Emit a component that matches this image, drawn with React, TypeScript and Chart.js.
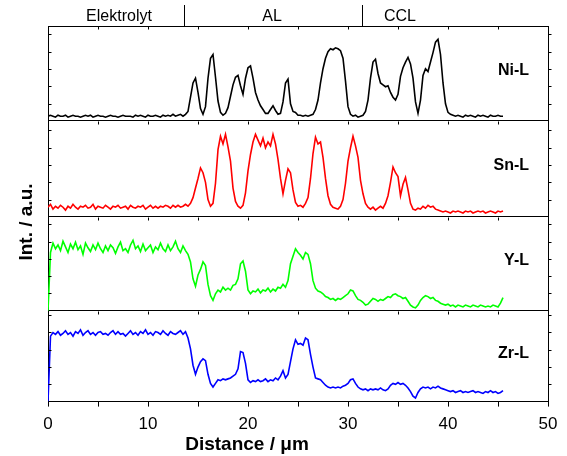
import React, { useEffect, useRef } from "react";
import { Chart, registerables } from "chart.js";

Chart.register(...registerables);

// Sampling step of the line scans (µm)
const DISTANCE_STEP = 0.25;

// Line-scan intensities (a.u., 0-100 of each panel's own range), one value every 0.25 µm from 0 to 45.5 µm
const NI_L = [
  5, 6, 5, 4, 6, 5, 5, 6, 4, 5, 6, 5, 5, 4, 5, 6, 5, 6, 4, 5, 6, 5, 5, 4,
  5, 6, 5, 5, 4, 5, 6, 5, 5, 5, 4, 6, 5, 6, 5, 4, 6, 5, 5, 6, 5, 4, 6, 5,
  6, 5, 7, 5, 6, 7, 5, 7, 10, 25, 40, 45, 30, 13, 7, 15, 45, 66, 70, 46,
  21, 9, 6, 8, 14, 26, 38, 46, 48, 37, 28, 45, 56, 58, 45, 30, 22, 16, 12, 8,
  8, 12, 16, 11, 7, 8, 20, 40, 44, 18, 10, 9, 6, 6, 5, 6, 5, 6, 7, 12,
  22, 40, 55, 66, 73, 76, 75, 77, 76, 74, 66, 42, 15, 7, 5, 6, 4, 5, 6, 10,
  22, 45, 62, 65, 50, 40, 38, 36, 37, 30, 25, 22, 28, 47, 56, 62, 67, 60, 45, 20,
  8, 22, 48, 55, 52, 62, 72, 83, 86, 70, 40, 18, 9, 7, 6, 5, 6, 5, 4, 6,
  5, 6, 5, 4, 6, 5, 6, 5, 4, 6, 5, 5, 6, 5, 5,
];

const SN_L = [
  10, 13, 8, 11, 9, 12, 10, 7, 11, 9, 13, 10, 8, 11, 10, 12, 9, 10, 13, 8,
  11, 10, 9, 12, 10, 8, 11, 10, 12, 9, 10, 11, 8, 12, 10, 9, 11, 10, 12, 8,
  10, 12, 9, 11, 9, 11, 10, 12, 11, 9, 12, 10, 12, 10, 11, 13, 11, 14, 20, 30,
  40, 51, 46, 36, 18, 11, 14, 35, 70, 84, 76, 86, 73, 58, 30, 16, 11, 9, 12, 25,
  48, 65, 78, 86, 80, 74, 82, 72, 78, 74, 86, 76, 60, 40, 24, 38, 50, 46, 28, 15,
  11, 12, 10, 14, 20, 40, 66, 83, 76, 78, 62, 40, 22, 13, 10, 9, 8, 11, 18, 35,
  58, 72, 84, 74, 62, 38, 24, 14, 10, 8, 10, 7, 9, 11, 9, 14, 22, 36, 52, 46,
  42, 22, 34, 41, 28, 14, 8, 7, 9, 8, 11, 9, 12, 10, 11, 8, 7, 6, 5, 6,
  5, 4, 6, 5, 6, 5, 4, 6, 5, 6, 4, 5, 6, 5, 6, 4, 5, 6, 5, 4, 6, 5, 6,
];

const Y_L = [
  0, 62, 72, 66, 70, 64, 74, 68, 62, 71, 66, 73, 65, 69, 60, 72, 67, 63, 70, 65,
  72, 66, 62, 69, 64, 70, 67, 61, 68, 73, 64, 66, 62, 70, 75, 66, 69, 63, 71, 64,
  67, 70, 62, 68, 65, 72, 66, 63, 70, 64, 68, 74, 66, 62, 69, 64, 60, 52, 34, 26,
  38, 44, 52, 48, 28, 16, 11, 18, 22, 20, 25, 22, 24, 22, 27, 28, 34, 50, 53, 42,
  22, 18, 21, 20, 23, 19, 22, 21, 24, 20, 23, 21, 25, 24, 28, 25, 32, 50, 58, 66,
  62, 59, 55, 62, 60, 50, 32, 24, 21, 20, 18, 15, 14, 12, 13, 11, 13, 12, 14, 16,
  18, 22, 21, 16, 12, 11, 9, 6, 7, 10, 13, 12, 10, 12, 11, 13, 15, 14, 17, 18,
  16, 15, 13, 14, 10, 6, 4, 3, 6, 11, 14, 16, 15, 13, 14, 11, 10, 8, 7, 6,
  7, 5, 6, 4, 6, 5, 4, 6, 5, 4, 6, 5, 4, 6, 5, 4, 5, 4, 6, 5, 4, 8, 14,
];

const ZR_L = [
  0, 72, 76, 74, 77, 73, 75, 78, 74, 76, 72, 77, 75, 79, 73, 76, 78, 74, 76, 73,
  76, 77, 74, 75, 73, 76, 78, 74, 77, 74, 75, 72, 75, 78, 74, 76, 73, 77, 75, 79,
  74, 76, 73, 77, 76, 74, 78, 75, 73, 77, 75, 74, 76, 78, 74, 77, 70, 58, 40, 30,
  38, 44, 47, 45, 30, 20, 16, 20, 24, 23, 25, 24, 25, 26, 28, 30, 36, 55, 54, 42,
  24, 21, 23, 22, 24, 22, 23, 25, 22, 24, 23, 26, 24, 28, 34, 26, 30, 44, 58, 68,
  63, 64, 62, 70, 68, 52, 38, 26, 25, 24, 21, 18, 16, 15, 16, 15, 16, 15, 17, 18,
  20, 24, 25, 20, 16, 14, 13, 14, 12, 14, 13, 14, 13, 15, 13, 12, 14, 18, 20, 19,
  21, 19, 20, 18, 15, 11, 6, 4, 10, 14, 16, 15, 16, 14, 16, 15, 17, 15, 14, 13,
  12, 11, 12, 10, 11, 12, 10, 11, 10, 11, 12, 10, 11, 10, 9, 11, 10, 12, 10, 11,
  9, 10, 12,
];

const DISTANCE = NI_L.map((_, i) => i * DISTANCE_STEP);

const X_TICKS = [0, 10, 20, 30, 40, 50];
const PANEL_NAMES = ["Ni-L", "Sn-L", "Y-L", "Zr-L"];
const PANEL_COLORS = ["#000000", "#ff0000", "#00ff00", "#0000ff"];
const REGION_NAMES = ["Elektrolyt", "AL", "CCL"];
const REGION_LIMITS = [13.6, 31.35]; // µm, borders between regions
const REGION_CENTERS = [7.1, 22.4, 35.2]; // µm, label positions

// Panel borders in y-axis units (bottom to top): Zr, Y, Sn, Ni
const PANEL_BOUNDS = [0, 0.968, 1.968, 2.989, 4];

const FONT = "'Liberation Sans', Arial, Helvetica, sans-serif";

const SERIES = [NI_L, SN_L, Y_L, ZR_L];

const decor = {
  id: "decor",
  afterDraw(chart: any) {
    const { ctx, chartArea: ca, scales } = chart;
    const xs = scales.x;
    const ys = scales.y;
    ctx.save();
    ctx.strokeStyle = "#000";
    ctx.fillStyle = "#000";
    ctx.lineWidth = 1;

    const R = Math.round(ca.right) + 0.5;
    const L = Math.round(ca.left) + 0.5;
    // right frame
    ctx.beginPath();
    ctx.moveTo(R, ca.top);
    ctx.lineTo(R, ca.bottom);
    ctx.stroke();

    // ticks on inner panel borders and top border (every 5 µm)
    for (let b = 1; b < PANEL_BOUNDS.length; b++) {
      const py = Math.round(ys.getPixelForValue(PANEL_BOUNDS[b])) + 0.5;
      for (let v = 5; v < 50; v += 5) {
        const px = Math.round(xs.getPixelForValue(v)) + 0.5;
        ctx.beginPath();
        ctx.moveTo(px, py);
        ctx.lineTo(px, py + 3);
        ctx.stroke();
      }
    }

    // small y ticks, left (inward) and right (outward)
    for (let p = 0; p < 4; p++) {
      const lo = ys.getPixelForValue(PANEL_BOUNDS[p]);
      const hi = ys.getPixelForValue(PANEL_BOUNDS[p + 1]);
      for (let k = 1; k < 6; k++) {
        const ty = Math.round(lo - k * 17.3) + 0.5;
        if (ty <= hi + 3) continue;
        ctx.beginPath();
        ctx.moveTo(L, ty);
        ctx.lineTo(L + 3, ty);
        ctx.moveTo(R, ty);
        ctx.lineTo(R + 3, ty);
        ctx.stroke();
      }
    }

    // region separators and names above the plot
    for (const v of REGION_LIMITS) {
      const px = Math.round(xs.getPixelForValue(v)) + 0.5;
      ctx.beginPath();
      ctx.moveTo(px, 5);
      ctx.lineTo(px, ca.top);
      ctx.stroke();
    }
    ctx.font = `16px ${FONT}`;
    ctx.textAlign = "center";
    ctx.textBaseline = "alphabetic";
    REGION_NAMES.forEach((n, i) => {
      ctx.fillText(n, xs.getPixelForValue(REGION_CENTERS[i]), 21);
    });

    // panel names
    ctx.font = `bold 16px ${FONT}`;
    ctx.textAlign = "right";
    ctx.textBaseline = "middle";
    PANEL_NAMES.forEach((n, i) => {
      const lo = PANEL_BOUNDS[3 - i];
      const hi = PANEL_BOUNDS[4 - i];
      const py = ys.getPixelForValue(lo + (hi - lo) * 0.53);
      ctx.fillText(n, 529, py);
    });

    // axis titles
    ctx.font = `bold 19px ${FONT}`;
    ctx.textAlign = "center";
    ctx.textBaseline = "alphabetic";
    ctx.fillText("Distance / \u03bcm", xs.getPixelForValue(19.9), 450);
    ctx.save();
    ctx.translate(32, 222);
    ctx.rotate(-Math.PI / 2);
    ctx.fillText("Int. / a.u.", 0, 0);
    ctx.restore();

    ctx.restore();
  },
};

export default function App() {
  const ref = useRef<HTMLCanvasElement | null>(null);

  useEffect(() => {
    if (!ref.current) return;
    const datasets = SERIES.map((vals, s) => {
      const lo = PANEL_BOUNDS[3 - s];
      const hi = PANEL_BOUNDS[4 - s];
      return {
        label: PANEL_NAMES[s],
        data: vals.map((v, i) => ({ x: DISTANCE[i], y: lo + (v / 100) * (hi - lo) })),
        borderColor: PANEL_COLORS[s],
        backgroundColor: PANEL_COLORS[s],
        borderWidth: 1.6,
        pointRadius: 0,
        tension: 0,
        fill: false,
      };
    });

    const chart = new Chart(ref.current, {
      type: "line",
      data: { datasets },
      options: {
        responsive: false,
        animation: false,
        events: [],
        layout: { padding: { left: 48, right: 19, top: 26, bottom: 13 } },
        plugins: { legend: { display: false }, tooltip: { enabled: false }, title: { display: false } },
        scales: {
          x: {
            type: "linear",
            min: 0,
            max: 50,
            afterBuildTicks: (scale: any) => {
              const t: any[] = [];
              for (let v = 0; v <= 50; v += 5) t.push({ value: v });
              scale.ticks = t;
            },
            ticks: {
              color: "#000",
              font: { family: FONT, size: 17 },
              padding: 8,
              maxRotation: 0,
              autoSkip: false,
              callback: (v: any) => (X_TICKS.includes(Number(v)) ? String(v) : ""),
            },
            grid: { drawOnChartArea: false, drawTicks: true, tickLength: 5, color: "#000", lineWidth: 1 },
            border: { display: true, color: "#000", width: 1 },
          },
          y: {
            type: "linear",
            min: 0,
            max: 4,
            afterBuildTicks: (scale: any) => {
              scale.ticks = PANEL_BOUNDS.map((v) => ({ value: v }));
            },
            ticks: { display: false },
            grid: { drawOnChartArea: true, drawTicks: false, color: "#000", lineWidth: 1 },
            border: { display: true, color: "#000", width: 1 },
          },
        },
      },
      plugins: [decor],
    });
    return () => chart.destroy();
  }, []);

  return (
    <div style={{ position: "absolute", left: 0, top: 0, width: 567, height: 456, background: "#fff" }}>
      <canvas ref={ref} width={567} height={456} style={{ display: "block" }} />
    </div>
  );
}
